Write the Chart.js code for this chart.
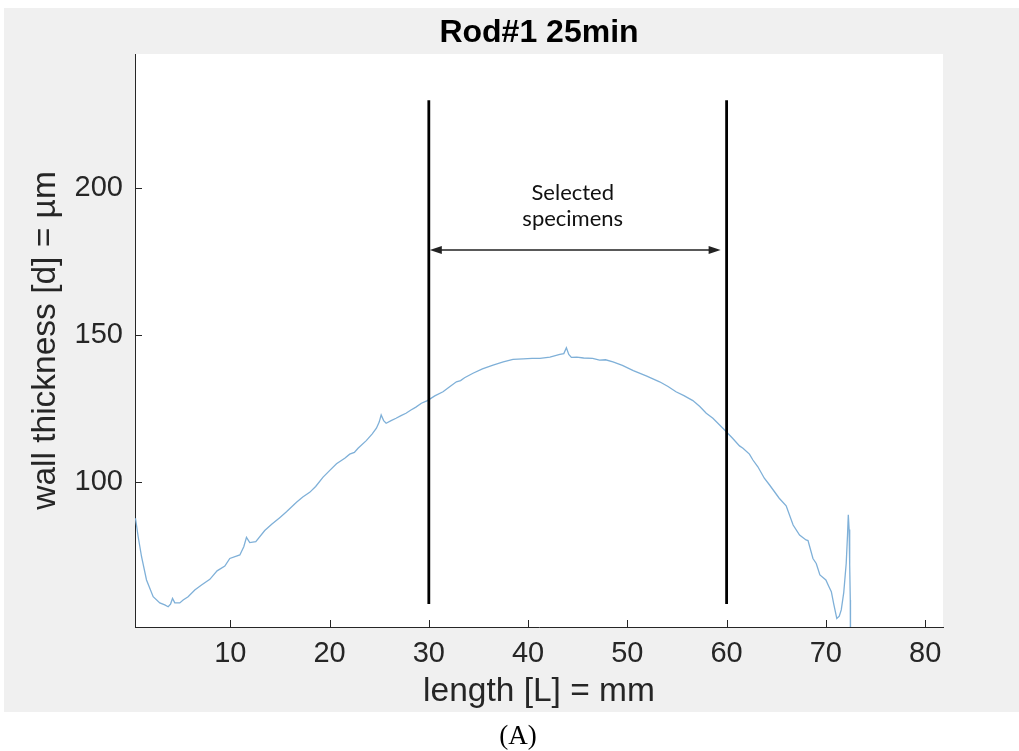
<!DOCTYPE html>
<html>
<head>
<meta charset="utf-8">
<script src="https://cdn.jsdelivr.net/npm/chart.js@4.4.0/dist/chart.umd.min.js"></script>
<style>
html, body { margin: 0; padding: 0; background: #fff; }
#wrap { position: relative; width: 1019px; height: 751px; }
#caption { position: absolute; left: 0; width: 1036px; top: 720px; line-height: 30px; text-align: center; font-family: "Liberation Serif", serif; font-size: 27px; color: #000; }
</style>
</head>
<body>
<div id="wrap">
	<canvas id="mycanvas" width="1019" height="751"></canvas>
	<div id="caption">(A)</div>
</div>
<script>
// wall thickness profile along the rod
var lengthMm = [0.45, 0.72, 1.06, 1.56, 2.23, 2.9, 3.4, 3.74, 3.98, 4.18, 4.41, 4.91, 5.25, 5.75, 6.42, 7.1, 7.94, 8.67, 9.45, 9.95,
	10.96, 11.36, 11.63, 11.96, 12.57, 13.47, 14.2, 14.98, 15.66, 16.67, 17.3, 18.0, 18.6, 19.35, 20.0, 20.7, 21.53, 22.03, 22.5, 22.87,
	23.7, 24.3, 24.72, 25.0, 25.2, 25.45, 25.7, 26.2, 26.7, 27.2, 27.7, 28.2, 28.7, 29.25, 29.86, 30.6, 31.43, 32.1, 32.78, 33.2,
	33.6, 34.45, 35.4, 36.47, 37.5, 38.48, 39.5, 40.4, 41.2, 42.2, 43.2, 43.6, 43.86, 44.1, 44.36, 44.9, 45.6, 46.5, 47.2, 47.8,
	48.55, 49.5, 50.6, 51.9, 53.25, 54.1, 54.9, 55.7, 56.6, 57.3, 57.95, 58.62, 59.8, 60.6, 61.3, 61.65, 62.3, 62.65, 63.15, 63.8,
	64.33, 65.3, 66.0, 66.7, 67.35, 68.0, 68.2, 68.7, 69.03, 69.4, 70.0, 70.3, 70.55, 70.8, 71.1, 71.35, 71.55, 71.8, 72.05, 72.18,
	72.26, 72.34, 72.4, 72.46, 72.48];
var thicknessUm = [87.8, 81.5, 74.7, 66.8, 61.1, 59.0, 58.3, 57.7, 58.6, 60.5, 59.0, 59.0, 60.0, 61.1, 63.4, 65.1, 67.0, 69.9, 71.5, 74.1,
	75.3, 78.1, 81.3, 79.5, 79.8, 83.6, 85.8, 88.0, 90.0, 93.2, 95.0, 96.6, 98.6, 101.8, 104.0, 106.3, 108.2, 109.6, 110.2, 111.6,
	114.2, 116.5, 118.4, 120.5, 122.9, 121.0, 120.1, 121.0, 121.8, 122.7, 123.5, 124.6, 125.6, 126.9, 127.8, 129.4, 130.8, 132.5, 134.2, 134.6,
	135.6, 137.1, 138.6, 139.9, 141.0, 141.8, 142.0, 142.2, 142.2, 142.6, 143.5, 143.8, 145.8, 143.5, 142.5, 142.6, 142.3, 142.2, 141.6, 141.7,
	141.0, 139.8, 138.0, 136.2, 134.2, 132.6, 130.8, 129.5, 127.8, 125.8, 123.5, 121.8, 117.8, 115.0, 112.4, 111.6, 109.6, 107.6, 105.3, 101.4,
	99.1, 94.6, 92.0, 85.5, 82.1, 80.4, 80.2, 74.1, 72.4, 68.5, 66.8, 64.6, 62.8, 58.5, 53.7, 54.5, 56.6, 62.5, 72.5, 82.0,
	89.0, 84.0, 72.0, 60.0, 40.0];

var xTicks = [10, 20, 30, 40, 50, 60, 70, 80];
var yTicks = [100, 150, 200];

// selected specimen window
var boundX = [30, 60];
var boundY = [58.6, 230];
var arrowY = 179;
var arrowEnds = [30.1, 59.4];
var noteLines = ["Selected", "specimens"];
var noteX = 44.5;
var noteY = [198.4, 189.6];

var axisColor = "#262626";

var backdrop = {
	id: "backdrop",
	beforeDraw: function(chart) {
		var ctx = chart.ctx;
		var a = chart.chartArea;
		ctx.save();
		ctx.fillStyle = "#ffffff";
		ctx.fillRect(0, 0, chart.width, chart.height);
		ctx.fillStyle = "#f0f0f0";
		ctx.fillRect(4, 8, chart.width - 4, 704);
		ctx.fillStyle = "#ffffff";
		ctx.fillRect(a.left, a.top, a.right - a.left, a.bottom - a.top);
		ctx.restore();
	}
};

var extras = {
	id: "extras",
	afterDraw: function(chart) {
		var ctx = chart.ctx;
		var xs = chart.scales.x;
		var ys = chart.scales.y;
		var a = chart.chartArea;
		ctx.save();

		// inward ticks, matlab style
		ctx.strokeStyle = axisColor;
		ctx.lineWidth = 1;
		ctx.beginPath();
		xs.ticks.forEach(function(t) {
			var px = Math.round(xs.getPixelForValue(t.value)) + 0.5;
			ctx.moveTo(px, a.bottom);
			ctx.lineTo(px, a.bottom - 7);
		});
		ys.ticks.forEach(function(t) {
			var py = Math.round(ys.getPixelForValue(t.value)) + 0.5;
			ctx.moveTo(a.left, py);
			ctx.lineTo(a.left + 7, py);
		});
		ctx.stroke();

		// double arrow
		var y = ys.getPixelForValue(arrowY);
		var x1 = xs.getPixelForValue(arrowEnds[0]);
		var x2 = xs.getPixelForValue(arrowEnds[1]);
		ctx.strokeStyle = "#222";
		ctx.fillStyle = "#222";
		ctx.lineWidth = 1.5;
		ctx.beginPath();
		ctx.moveTo(x1 + 8, y);
		ctx.lineTo(x2 - 8, y);
		ctx.stroke();
		ctx.beginPath();
		ctx.moveTo(x1, y);
		ctx.lineTo(x1 + 12, y - 4);
		ctx.lineTo(x1 + 12, y + 4);
		ctx.closePath();
		ctx.fill();
		ctx.beginPath();
		ctx.moveTo(x2, y);
		ctx.lineTo(x2 - 12, y - 4);
		ctx.lineTo(x2 - 12, y + 4);
		ctx.closePath();
		ctx.fill();

		// note
		ctx.fillStyle = "#111";
		ctx.font = "22px Lato";
		ctx.textAlign = "center";
		ctx.textBaseline = "middle";
		noteLines.forEach(function(s, i) {
			ctx.fillText(s, xs.getPixelForValue(noteX), ys.getPixelForValue(noteY[i]));
		});
		ctx.restore();
	}
};

var profile = [];
for (var i in lengthMm) {
	profile.push({x: lengthMm[i], y: thicknessUm[i]});
}

function boundLine(x) {
	return {
		data: [{x: x, y: boundY[0]}, {x: x, y: boundY[1]}],
		showLine: true,
		borderColor: "#000",
		borderWidth: 2.8,
		pointRadius: 0,
		order: 0
	};
}

Chart.defaults.font.family = "'Liberation Sans', Arial, sans-serif";
Chart.defaults.color = axisColor;

var ctx = document.getElementById("mycanvas");

var LineGraph = new Chart(ctx, {
	type: "scatter",
	data: {
		datasets: [
			boundLine(boundX[0]),
			boundLine(boundX[1]),
			{
				data: profile,
				showLine: true,
				borderColor: "#7fb0d8",
				borderWidth: 1.3,
				pointRadius: 0,
				tension: 0,
				order: 1
			}
		]
	},
	options: {
		responsive: false,
		devicePixelRatio: 1,
		animation: false,
		layout: {padding: {left: 0, top: 0, right: 76, bottom: 39}},
		plugins: {
			legend: {display: false},
			tooltip: {enabled: false},
			title: {
				display: true,
				text: "Rod#1 25min",
				color: "#000",
				fullSize: false,
				font: {size: 32, weight: "bold"},
				padding: {top: 14, bottom: 1.6}
			}
		},
		scales: {
			x: {
				type: "linear",
				min: 0.4,
				max: 81.8,
				afterBuildTicks: function(s) { s.ticks = xTicks.map(function(v) { return {value: v}; }); },
				afterFit: function(s) { s.height = 85; },
				grid: {display: false, drawTicks: false},
				border: {display: true, color: axisColor, width: 1},
				ticks: {font: {size: 29}, color: axisColor, padding: 10, maxRotation: 0, autoSkip: false},
				title: {display: true, text: "length [L] = mm", color: axisColor, font: {size: 33.5}, padding: {top: 0, bottom: 0}}
			},
			y: {
				type: "linear",
				min: 50.8,
				max: 245.7,
				afterBuildTicks: function(s) { s.ticks = yTicks.map(function(v) { return {value: v}; }); },
				afterFit: function(s) { s.width = 135; },
				grid: {display: false, drawTicks: false},
				border: {display: true, color: axisColor, width: 1},
				ticks: {font: {size: 29}, color: axisColor, padding: 12, autoSkip: false},
				title: {display: true, text: "wall thickness [d] = µm", color: axisColor, font: {size: 33.5}, padding: {top: 26, bottom: 0}}
			}
		}
	},
	plugins: [backdrop, extras]
});
</script>
</body>
</html>
